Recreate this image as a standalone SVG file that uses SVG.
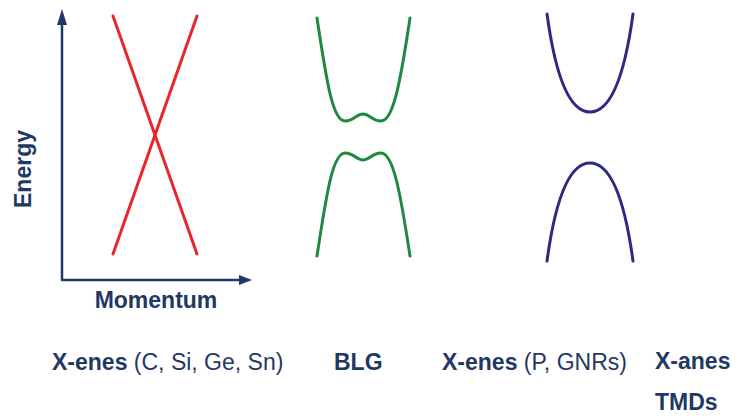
<svg xmlns="http://www.w3.org/2000/svg" width="739" height="418" viewBox="0 0 739 418">
  <style>
    .lbl { font-family: "Liberation Sans", Arial, sans-serif; fill: #1F3864; font-size: 23px; }
    .b { font-weight: bold; }
    .axis { stroke: #1F3864; stroke-width: 2.5; fill: none; }
    .band { fill: none; stroke-width: 3; stroke-linecap: round; }
    .red { stroke: #E8262C; }
    .green { stroke: #1F8A3F; }
    .blue { stroke: #2D2A82; }
  </style>
  <rect width="739" height="418" fill="#FFFFFF"/>
  <g id="axes">
    <line class="axis" x1="62" y1="280" x2="62" y2="23"/>
    <polygon points="62,9 57,25 67,25" fill="#1F3864"/>
    <line class="axis" x1="61" y1="280" x2="240" y2="280"/>
    <polygon points="252,280 239,275 239,285" fill="#1F3864"/>
    <text class="lbl b" font-size="22" transform="translate(31,169) rotate(-90)" text-anchor="middle">Energy</text>
    <text class="lbl b" x="156" y="308" font-size="24" text-anchor="middle">Momentum</text>
  </g>
  <g id="dirac-cone">
    <line class="band red" x1="113" y1="16" x2="197" y2="254"/>
    <line class="band red" x1="197" y1="16" x2="113" y2="254"/>
  </g>
  <g id="blg-bands">
    <path class="band green" d="M317,18 C327,85 333,121 345,121 C354,121 356,114 363,114 C370,114 372,121 381,121 C393,121 400,85 410,18"/>
    <path class="band green" d="M317,256 C327,190 333,153 345,153 C354,153 356,160 363,160 C370,160 372,153 381,153 C393,153 400,190 410,256"/>
  </g>
  <g id="gapped-bands">
    <path class="band blue" d="M547,14 C556,80 570,112 590,112 C610,112 624,80 633,14"/>
    <path class="band blue" d="M547,261 C556,195 570,163 590,163 C610,163 624,195 633,261"/>
  </g>
  <g id="labels">
    <text class="lbl" x="52" y="370"><tspan class="b">X-enes</tspan> (C, Si, Ge, Sn)</text>
    <text class="lbl b" x="334" y="370">BLG</text>
    <text class="lbl" x="442" y="370"><tspan class="b">X-enes</tspan> (P, GNRs)</text>
    <text class="lbl b" x="655" y="369">X-anes</text>
    <text class="lbl b" x="655" y="410">TMDs</text>
  </g>
</svg>
